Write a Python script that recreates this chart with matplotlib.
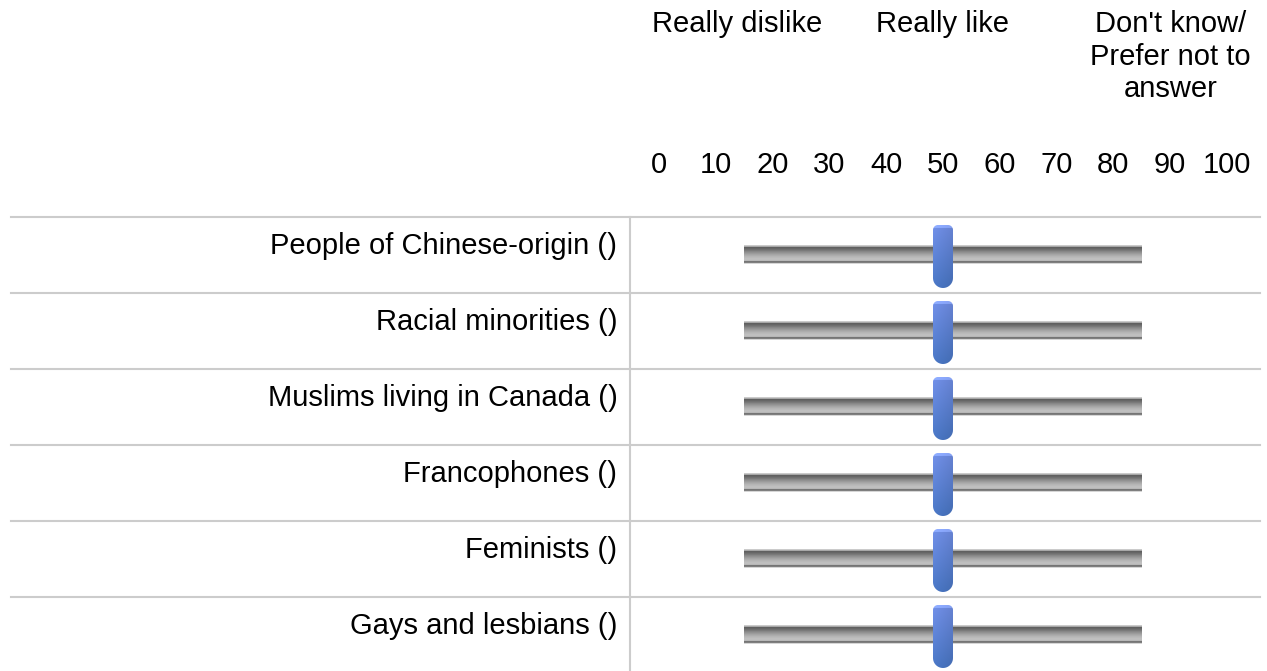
"""Slider question: how much do you like each group (0-100 feeling thermometer)."""

import matplotlib

matplotlib.use("Agg")
import matplotlib.pyplot as plt
import matplotlib.transforms as mtransforms
import numpy as np
from matplotlib.patches import PathPatch
from matplotlib.path import Path

plt.rcParams["font.family"] = ["Liberation Sans", "DejaVu Sans"]

# ---- data ----
groups = [
    "People of Chinese-origin ()",
    "Racial minorities ()",
    "Muslims living in Canada ()",
    "Francophones ()",
    "Feminists ()",
    "Gays and lesbians ()",
]
slider_values = [50, 50, 50, 50, 50, 50]
track_start = 15
track_end = 85
scale_ticks = [0, 10, 20, 30, 40, 50, 60, 70, 80, 90, 100]
anchor_labels = ["Really dislike", "Really like", "Don't know/\nPrefer not to\nanswer"]
anchor_positions = [13.7, 50, 90]

W, H = 1267, 671
FS = 21
GRID = "#cccccc"

fig = plt.figure(figsize=(W / 100, H / 100), dpi=100)
fig.patch.set_facecolor("white")

# slider axes: 0..100 spans x=659..1227 px, six 76 px rows from y=217 px
ax_left, ax_w = 659, 568
row_h = 76
top_px = 217
ax = fig.add_axes([ax_left / W, 1 - (top_px + row_h * len(groups)) / H,
                   ax_w / W, row_h * len(groups) / H])
px_x = ax_w / 100.0   # pixels per scale unit
px_y = float(row_h)   # pixels per row


def track_profile():
    # vertical grey shading of the slider rail, top -> bottom
    g = np.array([0.80, 0.66, 0.38, 0.40, 0.44, 0.48, 0.53, 0.57, 0.61, 0.65,
                  0.68, 0.71, 0.73, 0.75, 0.75, 0.72, 0.46, 0.50, 0.84])
    return np.repeat(g[:, None, None], 3, axis=2)


def handle_path(v, i):
    pts = []
    for cx, cy, a0, a1, r in [(-5, -25, np.pi, 1.5 * np.pi, 5),
                              (5, -25, 1.5 * np.pi, 2 * np.pi, 5),
                              (0, 23, 0, np.pi, 10)]:
        th = np.linspace(a0, a1, 24)
        pts += list(zip(cx + r * np.cos(th), cy + r * np.sin(th)))
    pts.append(pts[0])
    pts = np.array(pts)
    verts = np.column_stack([v + pts[:, 0] / px_x, i + pts[:, 1] / px_y])
    codes = [Path.MOVETO] + [Path.LINETO] * (len(verts) - 2) + [Path.CLOSEPOLY]
    return Path(verts, codes)


def handle_gradient(n=64, m=20):
    t = np.linspace(0, 1, n)[:, None]
    s = np.linspace(0, 1, m)[None, :]
    top = np.array([0.45, 0.57, 0.92])
    bot = np.array([0.29, 0.47, 0.78])
    img = top * (1 - t[..., None]) + bot * t[..., None]
    img = img * (1 - 0.10 * s[..., None])
    img[:3] = np.clip(img[:3] + 0.12, 0, 1)
    return np.clip(img, 0, 1)


rail = track_profile()
knob = handle_gradient()
for i, v in enumerate(slider_values):
    ax.imshow(rail, extent=(track_start, track_end, i + 9 / px_y, i - 10 / px_y),
              aspect="auto", interpolation="bilinear", zorder=2)
    patch = PathPatch(handle_path(v, i), facecolor="none", edgecolor="none", zorder=3)
    ax.add_patch(patch)
    im = ax.imshow(knob, extent=(v - 10 / px_x, v + 10 / px_x, i + 33 / px_y, i - 30 / px_y),
                   aspect="auto", interpolation="bilinear", zorder=3)
    im.set_clip_path(patch)

# table chrome
for i in range(len(groups)):
    ax.axhline(i - 0.5, xmin=(11 - ax_left) / ax_w, xmax=(1260 - ax_left) / ax_w,
               color=GRID, lw=1.5, clip_on=False, zorder=1)
ax.axvline((630 - ax_left) / px_x, ymin=0, ymax=1, color=GRID, lw=1.5, clip_on=False)

ax.set_xlim(0, 100)
ax.set_ylim(len(groups) - 0.5, -0.5)
ax.xaxis.tick_top()
ax.set_xticks(scale_ticks)
ax.set_xticklabels([str(t) for t in scale_ticks], fontsize=FS)
ax.set_yticks(range(len(groups)))
ax.set_yticklabels(groups, fontsize=FS)
ax.tick_params(axis="x", length=0, pad=27)
ax.tick_params(axis="y", length=0, pad=30)
for lab in ax.get_yticklabels():
    lab.set_transform(lab.get_transform() + mtransforms.ScaledTranslation(0, 12 / 100, fig.dpi_scale_trans))
for sp in ax.spines.values():
    sp.set_visible(False)

# anchor labels above the scale
hdr = mtransforms.blended_transform_factory(ax.transData, fig.transFigure)
for lab, x in zip(anchor_labels, anchor_positions):
    ax.text(x, 1 - 10 / H, lab, transform=hdr, ha="center", va="top",
            multialignment="center", fontsize=FS, linespacing=1.21)

fig.savefig("out.png", dpi=100, facecolor="white")
